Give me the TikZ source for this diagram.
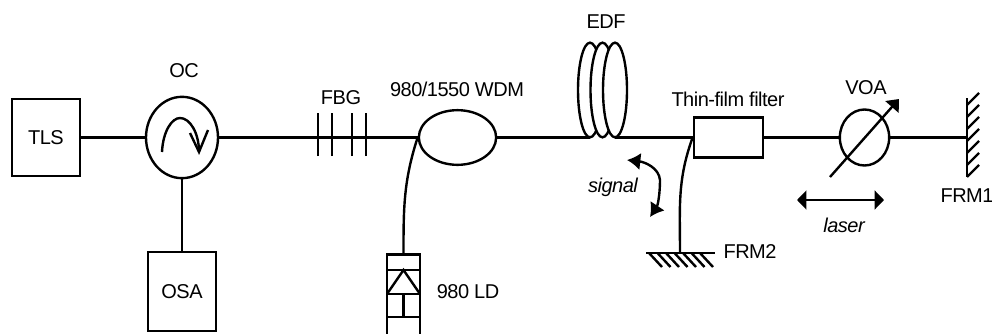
\documentclass[tikz,border=0pt]{standalone}
\usepackage{fontspec}
\setmainfont[LetterSpace=-2.5]{Liberation Sans}
\usetikzlibrary{arrows.meta,shapes.geometric}
\tikzset{
	fibre/.style={line width=1.8pt},
	devbox/.style={draw, line width=1.8pt, rectangle, inner sep=0pt, fill=white},
	devoval/.style={draw, line width=1.8pt, ellipse, inner sep=0pt, fill=white},
	edfloop/.style={devoval, minimum width=18pt, minimum height=71pt},
	lbl/.style={font=\fontsize{15}{17}\selectfont, inner sep=0pt},
	ilbl/.style={font=\fontsize{15}{17}\selectfont\itshape, inner sep=0pt},
	bigtip/.style={-{Triangle[length=8pt,width=13pt]}},
}
\begin{document}
\begin{tikzpicture}[x=0.75pt, y=0.75pt]
	\useasboundingbox (0,0) rectangle (992,333);
	\node[devbox, minimum width=51pt, minimum height=58pt] (tls) at (46,195.5) {};
	\node[devbox, minimum width=51pt, minimum height=59pt] (osa) at (182,41.5) {};
	\node[devoval, minimum width=54pt, minimum height=61pt] (oc) at (182,195.5) {};
	\node[devoval, minimum width=58pt, minimum height=41pt] (wdm) at (457.5,195.5) {};
	\node[devbox, minimum width=52pt, minimum height=30pt] (filter) at (728.5,195.5) {};
	\node[devoval, minimum width=37pt, minimum height=42pt] (voa) at (864.5,195.5) {};
	\node[devbox, minimum width=25pt, minimum height=62pt] (ld) at (403.5,37) {};
	\coordinate (edfin) at (590,195.5);
	\coordinate (edfout) at (615,195.5);
	\coordinate (frmone) at (967,195.5);
	\coordinate (frmtwo) at (680,80);
	\coordinate (voalow) at (830,156);
	\coordinate (voahigh) at (899,234);
	\coordinate (laserl) at (797,133);
	\coordinate (laserr) at (884,133);
	\coordinate (sigtop) at (627,173);
	\coordinate (sigbot) at (650,116);
	\draw[fibre] (tls) -- (oc);
	\draw[fibre] (oc) -- (osa);
	\draw[fibre] (oc) -- (wdm);
	\draw[fibre] (wdm) -- (edfin);
	\node[edfloop] (edfa) at (590,243) {};
	\node[edfloop] (edfb) at (602.5,243) {};
	\node[edfloop] (edfc) at (615,243) {};
	\draw[fibre] (edfout) -- (filter);
	\draw[fibre] (filter) -- (voa);
	\draw[fibre] (voa) -- (frmone);
	\draw[fibre] (wdm.west) to[out=252, in=90] (ld.north);
	\draw[fibre] (filter.west) to[out=250, in=90] (frmtwo);
	\foreach \x in {318,332,352,366} {\draw[fibre] (\x,177) -- (\x,220);}
	\draw[fibre] (387,39) -- (420,39) (387,16) -- (420,16);
	\draw[fibre] (387,63) -- (420,63);
	\draw[fibre] (387,39) -- (403.5,63) -- (420,39);
	\draw[fibre] (403.5,39) -- (403.5,16);
	\draw[fibre] (162,181) .. controls (163,202) and (172,215) .. (180,215) .. controls (190,215) and (199,200) .. (199,181);
	\draw[fibre] (190,200) -- (199,181) -- (208,203);
	\draw[fibre, bigtip] (voalow) -- (voahigh);
	\draw[fibre, {Triangle[length=7pt,width=14pt]}-{Triangle[length=7pt,width=14pt]}] (laserl) -- (laserr);
	\draw[fibre, {Latex[length=10pt,width=13pt]}-{Latex[length=10pt,width=13pt]}] (sigtop) .. controls (645,171) and (659,165) .. (660,153) .. controls (660,140) and (658,128) .. (sigbot);
	\draw[fibre] (967,235) -- (967,156);
	\foreach \y in {156,168,180,192,204,216,228} {\draw[fibre] (967,\y) -- (979,\y+12);}
	\draw[fibre] (646,80) -- (715,80);
	\foreach \x in {649,657.5,666,674.5,683,691.5,700} {\draw[fibre] (\x,80) -- (\x+13,66);}
	\node[lbl] (tlslbl) at (tls) {TLS};
	\node[lbl] (osalbl) at (osa) {OSA};
	\node[lbl] (oclbl) at (184,262) {OC};
	\node[lbl] (fbglbl) at (341,235) {FBG};
	\node[lbl] (wdmlbl) at (457,244) {980/1550 WDM};
	\node[lbl] (edflbl) at (606,311) {EDF};
	\node[lbl] (filterlbl) at (728,234) {Thin-film filter};
	\node[lbl] (voalbl) at (866,245) {VOA};
	\node[lbl] (frmonelbl) at (967,137) {FRM1};
	\node[lbl] (frmtwolbl) at (750,81) {FRM2};
	\node[lbl] (ldlbl) at (468,41) {980 LD};
	\node[ilbl] (siglbl) at (613,146) {signal};
	\node[ilbl] (laserlbl) at (844,108) {laser};
\end{tikzpicture}
\end{document}
